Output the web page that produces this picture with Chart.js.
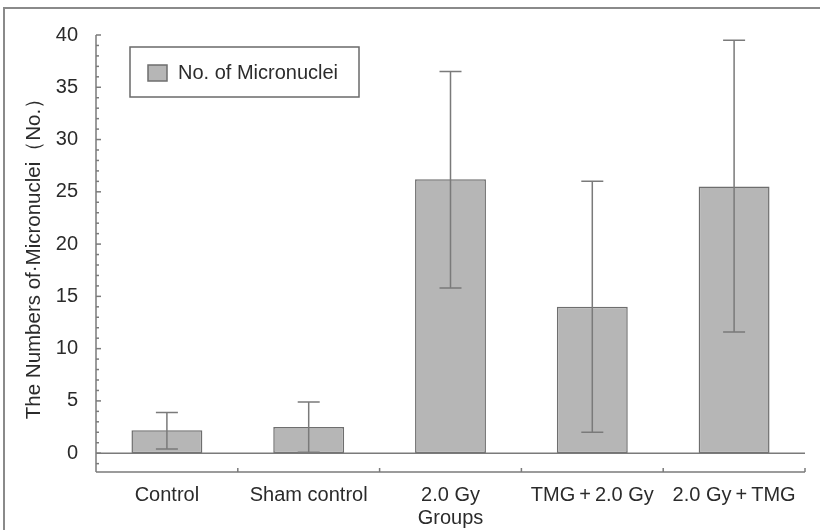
<!DOCTYPE html>
<html>
<head>
<meta charset="utf-8">
<script src="https://cdn.jsdelivr.net/npm/chart.js@4/dist/chart.umd.min.js"></script>
<style>
  html, body { margin: 0; padding: 0; background: #fff; }
  #wrap { width: 820px; height: 530px; }
</style>
</head>
<body>
<div id="wrap"><canvas id="chart" width="820" height="530"></canvas></div>
<script>
// データ
const groups = ['Control', 'Sham control', '2.0 Gy', 'TMG\u2009+\u20092.0 Gy', '2.0 Gy\u2009+\u2009TMG'];
const micronuclei = [2.2, 2.5, 26.2, 14.0, 25.5];
const errLow = [0.4, 0.1, 15.8, 2.0, 11.6];
const errHigh = [3.9, 4.9, 36.5, 26.0, 39.5];
const yTicks = [0, 5, 10, 15, 20, 25, 30, 35, 40];

const lineColor = '#7a7a7a';
const textColor = '#2b2b2b';
const font = "'Liberation Sans', Arial, sans-serif";

// 枠線・軸・エラーバー・凡例を描くプラグイン
const decor = {
  id: 'decor',
  beforeDraw(chart) {
    const ctx = chart.ctx;
    ctx.save();
    ctx.strokeStyle = '#8a8a8a';
    ctx.lineWidth = 2;
    ctx.beginPath();
    ctx.moveTo(4, 530);
    ctx.lineTo(4, 8);
    ctx.lineTo(820, 8);
    ctx.stroke();
    ctx.restore();
  },
  afterDatasetsDraw(chart) {
    const ctx = chart.ctx;
    const area = chart.chartArea;
    const y = chart.scales.y;
    ctx.save();
    ctx.strokeStyle = lineColor;
    ctx.lineWidth = 1.5;

    // y軸
    ctx.beginPath();
    ctx.moveTo(area.left, area.top);
    ctx.lineTo(area.left, area.bottom);
    ctx.stroke();
    for (let v = Math.ceil(y.min); v <= y.max; v++) {
      const py = y.getPixelForValue(v);
      const len = v % 5 === 0 ? 5 : 3;
      ctx.beginPath();
      ctx.moveTo(area.left, py);
      ctx.lineTo(area.left + len, py);
      ctx.stroke();
    }

    // x軸（下）とゼロ線
    ctx.beginPath();
    ctx.moveTo(area.left, area.bottom);
    ctx.lineTo(area.right, area.bottom);
    ctx.stroke();
    const zero = y.getPixelForValue(0);
    ctx.beginPath();
    ctx.moveTo(area.left, zero);
    ctx.lineTo(area.right, zero);
    ctx.stroke();
    const step = (area.right - area.left) / groups.length;
    for (let i = 1; i <= groups.length; i++) {
      const px = area.left + step * i;
      ctx.beginPath();
      ctx.moveTo(px, area.bottom);
      ctx.lineTo(px, area.bottom - 4);
      ctx.stroke();
    }

    // エラーバー
    const meta = chart.getDatasetMeta(0);
    meta.data.forEach((bar, i) => {
      const top = y.getPixelForValue(errHigh[i]);
      const bot = y.getPixelForValue(errLow[i]);
      const cap = 11;
      ctx.beginPath();
      ctx.moveTo(bar.x, top);
      ctx.lineTo(bar.x, bot);
      ctx.moveTo(bar.x - cap, top);
      ctx.lineTo(bar.x + cap, top);
      ctx.moveTo(bar.x - cap, bot);
      ctx.lineTo(bar.x + cap, bot);
      ctx.stroke();
    });

    // 凡例
    const ds = chart.data.datasets[0];
    ctx.lineWidth = 1.5;
    ctx.strokeStyle = '#6a6a6a';
    ctx.strokeRect(130, 47, 229, 50);
    ctx.fillStyle = ds.backgroundColor;
    ctx.fillRect(148, 65, 19, 16);
    ctx.strokeStyle = ds.borderColor;
    ctx.strokeRect(148, 65, 19, 16);
    ctx.fillStyle = textColor;
    ctx.font = '20px ' + font;
    ctx.textBaseline = 'middle';
    ctx.textAlign = 'left';
    ctx.fillText(ds.label, 178, 73);
    ctx.restore();
  }
};

new Chart(document.getElementById('chart'), {
  type: 'bar',
  data: {
    labels: groups,
    datasets: [{
      label: 'No. of Micronuclei',
      data: micronuclei,
      backgroundColor: '#b6b6b6',
      borderColor: '#6e6e6e',
      borderWidth: 1.5,
      borderSkipped: false,
      barPercentage: 1,
      categoryPercentage: 0.5
    }]
  },
  options: {
    responsive: false,
    animation: false,
    layout: { padding: { left: 0, top: 35, right: 15, bottom: 0 } },
    plugins: {
      legend: { display: false },
      tooltip: { enabled: false }
    },
    scales: {
      x: {
        grid: { display: false },
        border: { display: false },
        ticks: { color: textColor, font: { family: font, size: 20 }, padding: 3, maxRotation: 0 },
        title: { display: true, text: 'Groups', color: textColor, font: { family: font, size: 20 }, padding: { top: 1, bottom: 0 } },
        afterFit: s => { s.height = 58; }
      },
      y: {
        min: -1.8,
        max: 40,
        grid: { display: false },
        border: { display: false },
        afterBuildTicks: s => { s.ticks = yTicks.map(v => ({ value: v })); },
        ticks: { color: textColor, font: { family: font, size: 20 }, padding: 10 },
        title: { display: true, text: 'The Numbers of·Micronuclei（No.）', color: textColor, font: { family: font, size: 20.5 }, padding: { top: 22, bottom: 0 } },
        afterFit: s => { s.width = 96; }
      }
    }
  },
  plugins: [decor]
});
</script>
</body>
</html>
